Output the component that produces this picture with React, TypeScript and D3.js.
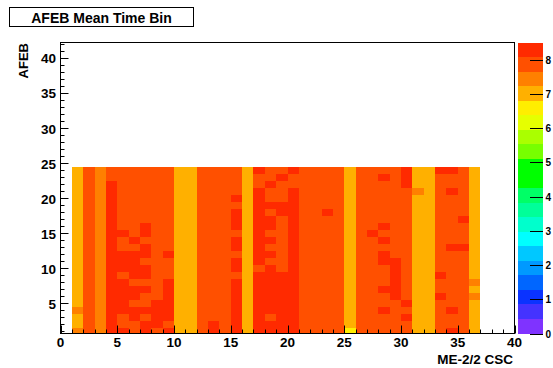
import * as d3 from 'd3';

// AFEB mean time bin per CSC (ME-2/2), AFEB 1..24 from bottom to top
const cscNumbers = d3.range(1, 37);
const afebNumbers = d3.range(1, 25);

const meanTimeBin: number[][] = [
  [7.4, 7.0, 7.0, 7.4, 7.0, 7.0, 7.0, 7.0, 7.0, 7.0, 7.0, 7.0, 7.0, 7.0, 7.0, 7.0, 7.0, 7.0, 7.0, 7.0, 7.0, 7.0, 7.0, 7.0],
  [7.9, 7.9, 7.9, 7.9, 7.9, 7.9, 7.9, 7.9, 7.9, 7.9, 7.9, 7.9, 7.9, 7.9, 7.9, 7.9, 7.9, 7.9, 7.9, 7.9, 7.9, 7.9, 7.9, 7.9],
  [7.4, 7.4, 7.4, 7.4, 7.4, 7.4, 7.4, 7.4, 7.4, 7.4, 7.4, 7.4, 7.4, 7.4, 7.4, 7.4, 7.4, 7.4, 7.4, 7.4, 7.4, 7.4, 7.4, 7.4],
  [8.3, 8.3, 8.3, 8.3, 8.3, 8.3, 8.3, 8.3, 8.3, 8.3, 8.3, 8.3, 8.3, 8.3, 8.3, 8.3, 8.3, 8.3, 8.3, 8.3, 8.3, 8.3, 7.9, 7.9],
  [8.3, 7.9, 7.9, 8.3, 8.3, 8.3, 8.3, 8.3, 7.9, 8.3, 8.3, 8.3, 7.9, 7.9, 8.3, 7.9, 7.9, 7.9, 7.9, 7.9, 7.9, 7.9, 7.9, 7.9],
  [7.9, 7.9, 8.3, 8.3, 7.9, 8.3, 8.3, 7.9, 8.3, 8.3, 8.3, 8.3, 7.9, 8.3, 7.9, 7.9, 7.9, 7.9, 7.9, 7.9, 7.9, 7.9, 7.9, 7.9],
  [8.3, 8.3, 7.9, 8.3, 7.9, 7.9, 8.3, 7.9, 8.3, 8.3, 7.9, 8.3, 8.3, 7.9, 8.3, 8.3, 7.9, 7.9, 7.9, 7.9, 7.9, 7.9, 7.9, 7.9],
  [7.9, 8.3, 8.3, 8.3, 8.3, 7.9, 7.9, 7.9, 7.9, 7.9, 7.9, 7.9, 7.9, 7.9, 7.9, 7.9, 7.9, 7.9, 7.9, 7.9, 7.9, 7.9, 7.9, 7.9],
  [8.3, 7.9, 8.3, 8.3, 8.3, 8.3, 8.3, 8.3, 7.9, 7.9, 7.9, 8.3, 7.9, 7.9, 7.9, 7.9, 7.9, 7.9, 7.9, 7.9, 7.9, 7.9, 7.9, 7.9],
  [7.0, 7.0, 7.0, 7.0, 7.0, 7.0, 7.0, 7.0, 7.0, 7.0, 7.0, 7.0, 7.0, 7.0, 7.0, 7.0, 7.0, 7.0, 7.0, 7.0, 7.0, 7.0, 7.0, 7.0],
  [7.0, 7.0, 7.0, 7.0, 7.0, 7.0, 7.0, 7.0, 7.0, 7.0, 7.0, 7.0, 7.0, 7.0, 7.0, 7.0, 7.0, 7.0, 7.0, 7.0, 7.0, 7.0, 7.0, 7.0],
  [7.9, 7.9, 7.9, 7.9, 7.9, 7.9, 7.9, 7.9, 7.9, 7.9, 7.9, 7.9, 7.9, 7.9, 7.9, 7.9, 7.9, 7.9, 7.9, 7.9, 7.9, 7.9, 7.9, 7.9],
  [8.3, 8.3, 7.9, 7.9, 7.9, 7.9, 7.9, 7.9, 7.9, 7.9, 7.9, 7.9, 7.9, 7.9, 7.9, 7.9, 7.9, 7.9, 7.9, 7.9, 7.9, 7.9, 7.9, 7.9],
  [7.9, 7.9, 7.9, 7.9, 7.9, 7.9, 7.9, 7.9, 7.9, 7.9, 7.9, 7.9, 7.9, 7.9, 7.9, 7.9, 7.9, 7.9, 7.9, 7.9, 7.9, 7.9, 7.9, 7.9],
  [8.3, 8.3, 8.3, 8.3, 8.3, 8.3, 8.3, 8.3, 7.9, 8.3, 8.3, 7.9, 8.3, 8.3, 7.9, 8.3, 8.3, 8.3, 7.9, 8.3, 7.9, 7.9, 7.9, 7.9],
  [7.0, 7.0, 7.0, 7.0, 7.0, 7.0, 7.0, 7.0, 7.0, 7.0, 7.0, 7.0, 7.0, 7.0, 7.0, 7.0, 7.0, 7.0, 7.0, 7.0, 7.0, 7.0, 7.0, 7.0],
  [8.3, 8.3, 8.3, 8.3, 8.3, 8.3, 8.3, 8.3, 8.3, 7.9, 8.3, 8.3, 8.3, 8.3, 8.3, 8.3, 8.3, 8.3, 8.3, 8.3, 8.3, 7.9, 7.9, 8.3],
  [8.3, 8.3, 7.9, 8.3, 8.3, 8.3, 8.3, 8.3, 8.3, 8.3, 7.9, 8.3, 7.9, 8.3, 7.9, 8.3, 8.3, 7.9, 8.3, 7.9, 7.9, 8.3, 7.9, 7.9],
  [8.3, 8.3, 8.3, 8.3, 8.3, 8.3, 8.3, 8.3, 8.3, 7.9, 7.9, 7.9, 7.9, 7.9, 7.9, 7.9, 7.9, 8.3, 8.3, 7.9, 7.9, 7.9, 8.3, 7.9],
  [8.3, 8.3, 8.3, 8.3, 8.3, 8.3, 8.3, 8.3, 8.3, 8.3, 8.3, 8.3, 8.3, 8.3, 8.3, 8.3, 8.3, 8.3, 8.3, 8.3, 8.3, 7.9, 7.9, 8.3],
  [7.9, 7.9, 7.9, 7.9, 7.9, 7.9, 7.9, 7.9, 7.9, 7.9, 7.9, 7.9, 7.9, 7.9, 7.9, 7.9, 7.9, 7.9, 7.9, 7.9, 7.9, 7.9, 7.9, 7.9],
  [7.9, 7.9, 7.9, 7.9, 7.9, 7.9, 7.9, 7.9, 7.9, 7.9, 7.9, 7.9, 7.9, 7.9, 7.9, 7.9, 7.9, 7.9, 7.9, 7.9, 7.9, 7.9, 7.9, 7.9],
  [7.9, 7.9, 7.9, 7.9, 7.9, 7.9, 7.9, 7.9, 7.9, 7.9, 7.9, 7.9, 7.9, 7.9, 7.9, 7.9, 7.9, 8.3, 7.9, 7.9, 7.9, 7.9, 7.9, 7.9],
  [7.9, 7.9, 7.9, 7.9, 7.9, 7.9, 7.9, 7.9, 7.9, 7.9, 7.9, 7.9, 7.9, 7.9, 7.9, 7.9, 7.9, 7.9, 7.9, 7.9, 7.9, 7.9, 7.9, 7.9],
  [6.6, 7.0, 7.0, 7.0, 7.0, 7.0, 7.0, 7.0, 7.0, 7.0, 7.0, 7.0, 7.0, 7.0, 7.0, 7.0, 7.0, 7.0, 7.0, 7.0, 7.0, 7.0, 7.0, 7.0],
  [7.9, 7.9, 7.9, 7.9, 7.9, 7.9, 7.9, 7.9, 7.9, 7.9, 7.9, 7.9, 7.9, 7.9, 7.9, 7.9, 7.9, 7.9, 7.9, 7.9, 7.9, 7.9, 7.9, 7.9],
  [7.9, 7.9, 7.9, 7.9, 7.9, 7.9, 7.9, 7.9, 7.9, 7.9, 7.9, 7.9, 7.9, 7.9, 8.3, 7.9, 7.9, 7.9, 7.9, 7.9, 7.9, 7.9, 7.9, 7.9],
  [7.9, 7.9, 7.9, 8.3, 7.9, 7.9, 8.3, 7.9, 7.9, 7.9, 8.3, 8.3, 7.9, 8.3, 7.9, 8.3, 7.9, 7.9, 7.9, 7.9, 7.9, 7.9, 8.3, 7.9],
  [7.9, 7.9, 7.9, 7.9, 7.9, 8.3, 8.3, 8.3, 8.3, 8.3, 8.3, 7.9, 7.9, 7.9, 7.9, 7.9, 7.9, 7.9, 7.9, 7.9, 7.9, 7.9, 7.9, 7.9],
  [7.9, 7.9, 8.3, 7.9, 8.3, 7.9, 7.9, 7.9, 7.9, 7.9, 7.9, 7.9, 7.9, 7.9, 7.9, 7.9, 7.9, 7.9, 7.9, 7.9, 7.9, 8.3, 8.3, 8.3],
  [7.0, 7.0, 7.0, 7.0, 7.0, 7.0, 7.0, 7.0, 7.0, 7.0, 7.0, 7.0, 7.0, 7.0, 7.0, 7.0, 7.0, 7.0, 7.0, 7.0, 7.4, 7.0, 7.0, 7.0],
  [7.0, 7.0, 7.0, 7.0, 7.0, 7.0, 7.0, 7.0, 7.0, 7.0, 7.0, 7.0, 7.0, 7.0, 7.0, 7.0, 7.0, 7.0, 7.0, 7.0, 7.0, 7.0, 7.0, 7.0],
  [7.9, 7.9, 7.9, 7.9, 7.9, 8.3, 7.9, 7.9, 8.3, 7.9, 7.9, 7.9, 7.9, 7.9, 7.9, 7.9, 7.9, 7.9, 7.9, 7.9, 7.9, 7.9, 7.9, 8.3],
  [8.3, 7.9, 7.9, 8.3, 7.9, 7.9, 7.9, 7.9, 7.9, 7.9, 7.9, 7.9, 8.3, 7.9, 7.9, 7.9, 7.9, 7.9, 7.9, 7.9, 8.3, 7.9, 7.9, 8.3],
  [7.9, 7.9, 7.9, 7.9, 7.9, 7.9, 7.9, 7.9, 7.9, 7.9, 7.9, 7.9, 8.3, 7.9, 7.9, 7.9, 8.3, 7.9, 7.9, 7.9, 7.9, 7.9, 7.9, 7.9],
  [7.0, 7.0, 7.0, 7.0, 7.0, 7.4, 7.0, 7.4, 7.0, 7.0, 7.0, 7.0, 7.0, 7.0, 7.0, 7.0, 7.0, 7.0, 7.0, 7.0, 7.0, 7.0, 7.0, 7.0],
];

// colour palette, 20 contour levels from 0 to 8.5
const paletteColors = [
  '#7f33ff', '#4433ff', '#0a33ff', '#0066ff', '#0099ff',
  '#00c8ff', '#00ffff', '#00ffcc', '#00ff99', '#00ff66',
  '#00ff00', '#00ff00', '#77ff00', '#aaff00', '#e6ff00',
  '#ffee00', '#ffb000', '#ff8000', '#ff5000', '#ff2a00',
];
const zRange: [number, number] = [0, 8.5];
const zTicks = [0, 1, 2, 3, 4, 5, 6, 7, 8];

const xLabels = [0, 5, 10, 15, 20, 25, 30, 35, 40];
const yLabels = [5, 10, 15, 20, 25, 30, 35, 40];

const W = 553;
const H = 368;
const frame = { left: 60.5, right: 514.5, top: 42.5, bottom: 333.5 };
const font = '"Liberation Sans", Arial, Helvetica, sans-serif';

export default function App() {
  const x = d3.scaleLinear().domain([0, 40]).range([frame.left, frame.right]);
  const y = d3.scaleLinear().domain([0.7, 42.2]).range([frame.bottom, frame.top]);
  const z = d3.scaleLinear().domain(zRange).range([frame.bottom, frame.top]);
  const color = d3.scaleQuantize<string>().domain(zRange).range(paletteColors);
  const bandStep = (zRange[1] - zRange[0]) / paletteColors.length;

  const cells = cscNumbers.flatMap((csc, i) =>
    afebNumbers.map((afeb, j) => ({ csc, afeb, v: meanTimeBin[i][j] }))
  );

  const xMinor = d3.range(0, 41);
  const yMinor = d3.range(1, 43);

  return (
    <svg width={W} height={H} style={{ position: 'absolute', left: 0, top: 0, background: '#fff' }}>
      <defs>
        <clipPath id="plot-clip">
          <rect x={frame.left} y={frame.top} width={frame.right - frame.left} height={frame.bottom - frame.top} />
        </clipPath>
      </defs>
      <rect width={W} height={H} fill="#fff" />

      {/* title box */}
      <rect x={9.5} y={7.5} width={184} height={19} fill="#fff" stroke="#000" strokeWidth={1} />
      <text x={101.5} y={23} textAnchor="middle" fontFamily={font} fontWeight="bold" fontSize={14}>
        AFEB Mean Time Bin
      </text>

      {/* cells */}
      <g clipPath="url(#plot-clip)" shapeRendering="crispEdges">
        {cells.map(d => (
          <rect
            key={`${d.csc}-${d.afeb}`}
            x={x(d.csc)}
            y={y(d.afeb + 0.5)}
            width={x(d.csc + 1) - x(d.csc)}
            height={y(d.afeb - 0.5) - y(d.afeb + 0.5)}
            fill={color(d.v)}
          />
        ))}
      </g>

      {/* frame */}
      <rect
        x={frame.left}
        y={frame.top}
        width={frame.right - frame.left}
        height={frame.bottom - frame.top}
        fill="none"
        stroke="#000"
        strokeWidth={1}
      />

      {/* ticks */}
      <g stroke="#000" strokeWidth={1}>
        {xMinor.map(t => {
          const px = Math.round(x(t)) + 0.5;
          const len = t % 5 === 0 ? 8 : 4;
          return <line key={`xt${t}`} x1={px} x2={px} y1={frame.bottom} y2={frame.bottom - len} />;
        })}
        {yMinor.map(t => {
          const py = Math.round(y(t)) + 0.5;
          const len = t % 5 === 0 ? 8 : 4;
          return <line key={`yt${t}`} x1={frame.left} x2={frame.left + len} y1={py} y2={py} />;
        })}
      </g>

      {xLabels.map(t => (
        <text key={`xl${t}`} x={x(t)} y={347} textAnchor="middle" fontFamily={font} fontWeight="bold" fontSize={13.5}>
          {t}
        </text>
      ))}
      {yLabels.map(t => (
        <text key={`yl${t}`} x={56} y={y(t) + 5.5} textAnchor="end" fontFamily={font} fontWeight="bold" fontSize={13.5}>
          {t}
        </text>
      ))}

      {/* axis titles */}
      <text x={513} y={363.5} textAnchor="end" fontFamily={font} fontWeight="bold" fontSize={13.5}>
        ME-2/2 CSC
      </text>
      <text
        transform={`translate(28,43) rotate(-90)`}
        textAnchor="end"
        fontFamily={font}
        fontWeight="bold"
        fontSize={13}
      >
        AFEB
      </text>

      {/* colour bar */}
      <g shapeRendering="crispEdges">
        {paletteColors.map((c, i) => (
          <rect
            key={`pb${i}`}
            x={518}
            y={z((i + 1) * bandStep)}
            width={25}
            height={z(i * bandStep) - z((i + 1) * bandStep)}
            fill={c}
          />
        ))}
      </g>
      {zTicks.map(t => (
        <g key={`zt${t}`}>
          <line x1={530} x2={543} y1={Math.round(z(t)) + 0.5} y2={Math.round(z(t)) + 0.5} stroke="#000" strokeWidth={1} />
          <text x={545.5} y={z(t) + 4} fontFamily={font} fontWeight="bold" fontSize={10}>
            {t}
          </text>
        </g>
      ))}
    </svg>
  );
}
